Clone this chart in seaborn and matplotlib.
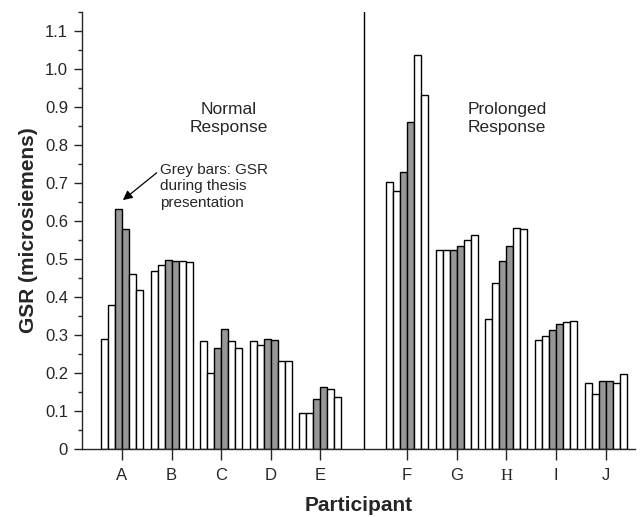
#!/usr/bin/env python
# coding: utf-8

"""
GSR per participant: six readings each, grey bars = during thesis presentation
"""

import numpy as np
import pandas as pd
import seaborn as sns
import matplotlib.pyplot as plt
from matplotlib.ticker import MultipleLocator, FuncFormatter

participants = ["A", "B", "C", "D", "E", "F", "G", "H", "I", "J"]
readings = ["r1", "r2", "r3", "r4", "r5", "r6"]
# grey bars (r3, r4) = GSR during thesis presentation
gsr_r1 = [0.289, 0.468, 0.285, 0.283, 0.094, 0.702, 0.524, 0.343, 0.286, 0.175]
gsr_r2 = [0.379, 0.485, 0.200, 0.275, 0.094, 0.680, 0.523, 0.437, 0.298, 0.144]
gsr_r3 = [0.631, 0.497, 0.267, 0.290, 0.132, 0.729, 0.525, 0.495, 0.314, 0.180]
gsr_r4 = [0.579, 0.495, 0.315, 0.286, 0.163, 0.860, 0.535, 0.535, 0.328, 0.180]
gsr_r5 = [0.460, 0.494, 0.283, 0.232, 0.157, 1.036, 0.551, 0.582, 0.334, 0.173]
gsr_r6 = [0.418, 0.491, 0.266, 0.232, 0.138, 0.931, 0.562, 0.580, 0.337, 0.197]

sns.set_style("ticks")
plt.rcParams["font.family"] = ["Liberation Sans", "DejaVu Sans"]

# position des groupes : ecart entre "normal" (A-E) et "prolonged" (F-J)
gap = 0.75
pos = [i if i < 5 else i + gap for i in range(len(participants))]

series = [gsr_r1, gsr_r2, gsr_r3, gsr_r4, gsr_r5, gsr_r6]
rows = []
for r, vals in zip(readings, series):
    for p, x, v in zip(participants, pos, vals):
        rows.append({"participant": p, "x": x, "reading": r, "gsr": v})
df = pd.DataFrame(rows)

grey = "#979797"
palette = {"r1": "white", "r2": "white", "r3": grey, "r4": grey, "r5": "white", "r6": "white"}

fig = plt.figure(figsize=(6.4, 5.17), dpi=100)
ax = fig.add_axes([0.128, 0.1315, 0.864, 0.8453])

sns.barplot(data=df, x="x", y="gsr", hue="reading", hue_order=readings,
            palette=palette, native_scale=True, width=0.846, gap=0,
            errorbar=None, edgecolor="black", linewidth=1.0,
            saturation=1, legend=False, ax=ax)

# ligne de separation
ax.axvline((4 + 5 + gap) / 2, color="black", lw=1.0)

ax.set_xlim(-0.806, 10.34)
ax.set_ylim(0, 1.15)
sns.despine(ax=ax)
ax.spines["left"].set_linewidth(1.0)
ax.spines["bottom"].set_linewidth(1.0)

ax.set_xticks(pos)
ax.set_xticklabels(participants, fontsize=12)
for lab in ax.get_xticklabels():
    if lab.get_text() == "H":
        lab.set_family("Liberation Serif")
ax.tick_params(axis="x", length=8, width=1, pad=6)

ax.yaxis.set_major_locator(MultipleLocator(0.1))
ax.yaxis.set_minor_locator(MultipleLocator(0.05))
ax.yaxis.set_major_formatter(FuncFormatter(lambda v, _: "0" if abs(v) < 1e-9 else f"{v:.1f}"))
ax.tick_params(axis="y", which="major", length=6, width=1, labelsize=12, pad=4)
ax.tick_params(axis="y", which="minor", length=3, width=1)

ax.set_xlabel("Participant", fontsize=15, fontweight="bold", labelpad=8)
ax.set_ylabel("GSR (microsiemens)", fontsize=15, fontweight="bold", labelpad=5)

ax.text(2.157, 0.87, "Normal\nResponse", ha="center", va="center", fontsize=12.5)
ax.text(7.76, 0.87, "Prolonged\nResponse", ha="center", va="center", fontsize=12.5)

ax.annotate("Grey bars: GSR\nduring thesis\npresentation",
            xy=(0.02, 0.655), xytext=(0.766, 0.752),
            ha="left", va="top", fontsize=11,
            arrowprops=dict(arrowstyle="-|>", color="black", lw=0.9,
                            shrinkA=0, shrinkB=0, mutation_scale=14,
                            relpos=(0, 0.85)))

fig.savefig("out.png", dpi=100)
